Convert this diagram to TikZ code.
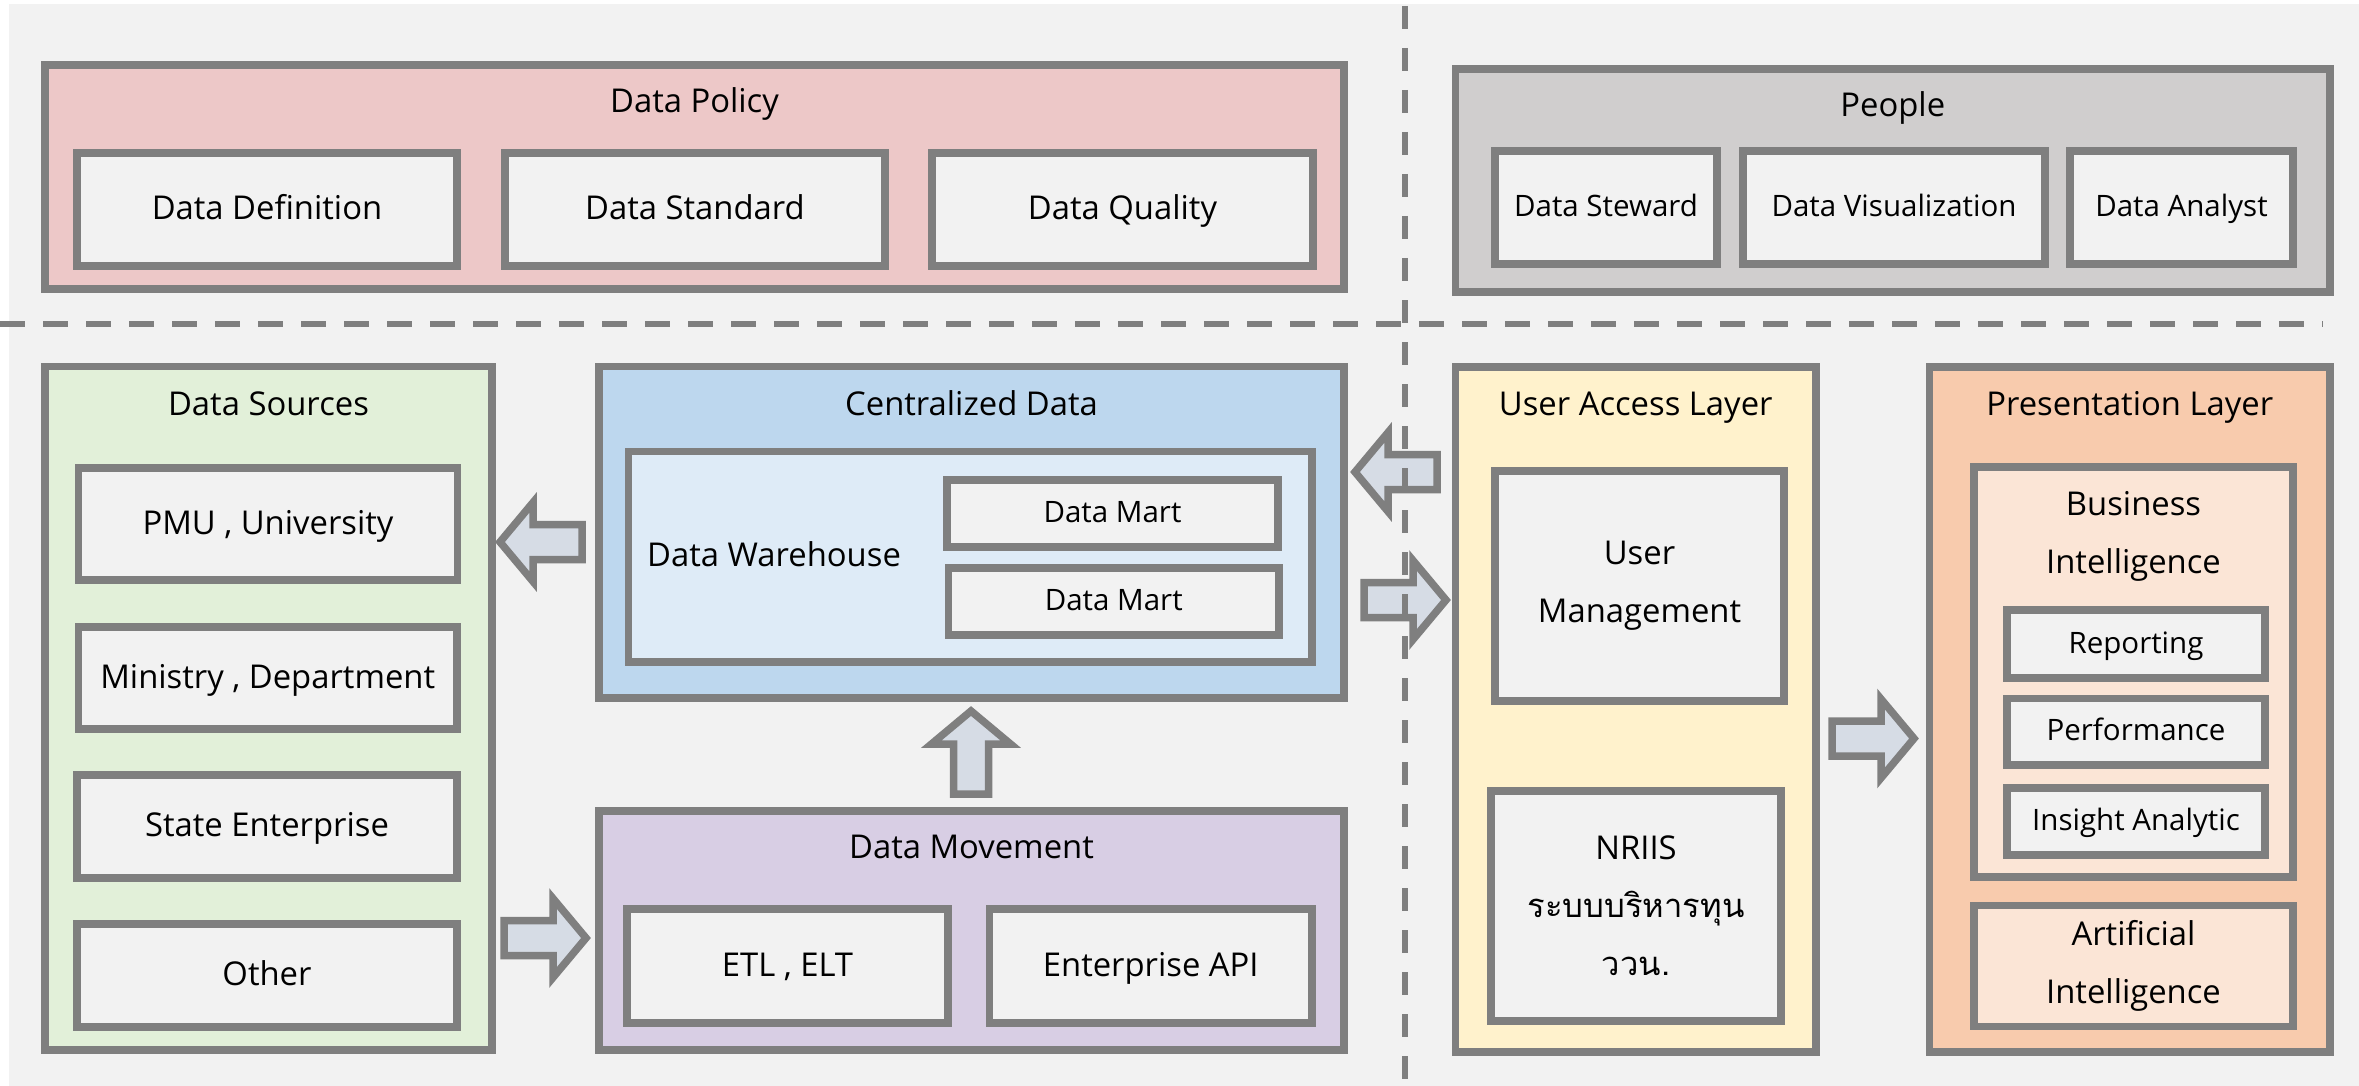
\documentclass[tikz,border=0pt]{standalone}
\usepackage{fontspec}
\setmainfont{Open Sans}
\newfontfamily\thaifont[Script=Thai]{Loma}
\definecolor{bord}{HTML}{7F7F7F}
\definecolor{bg}{HTML}{F2F2F2}
\definecolor{cpink}{HTML}{EDC8C8}
\definecolor{cgray}{HTML}{D0CECE}
\definecolor{cgreen}{HTML}{E2F0D9}
\definecolor{cblue}{HTML}{BDD7EE}
\definecolor{cbluel}{HTML}{DEEBF7}
\definecolor{cpurple}{HTML}{D8CEE4}
\definecolor{cyellow}{HTML}{FFF2CC}
\definecolor{corange}{HTML}{F8CBAD}
\definecolor{corangel}{HTML}{FBE5D6}
\definecolor{carrow}{HTML}{D6DCE5}
\newcommand\FontBig{\fontsize{32.8}{58}\selectfont}
\newcommand\FontSmall{\fontsize{29.5}{40}\selectfont}
\newcommand\ArrowLeft[1]{\draw[barrow] (#1) -- ++(33,-39.5) -- ++(0,22) -- ++(49,0) -- ++(0,35) -- ++(-49,0) -- ++(0,22) -- cycle;}
\newcommand\ArrowRight[1]{\draw[barrow] (#1) -- ++(-33,-39.5) -- ++(0,22) -- ++(-49,0) -- ++(0,35) -- ++(49,0) -- ++(0,22) -- cycle;}
\newcommand\ArrowUp[1]{\draw[barrow] (#1) -- ++(39.5,33) -- ++(-22,0) -- ++(0,50) -- ++(-35,0) -- ++(0,-50) -- ++(-22,0) -- cycle;}
\begin{document}
\begin{tikzpicture}[x=1pt,y=-1pt,
  box/.style={draw=bord, line width=7.5pt, inner sep=0pt, outer sep=0pt, fill=bg},
  sz/.style 2 args={minimum width=#1pt, minimum height=#2pt},
  big/.style={font=\FontBig, text height=23.4pt, text depth=3pt},
  small/.style={font=\FontSmall, text height=21.1pt, text depth=3pt},
  multi/.style={font=\FontBig, align=center},
  title/.style={font=\FontBig, text height=23.4pt, text depth=0pt, inner sep=0pt},
  barrow/.style={draw=bord, fill=carrow, line width=7.5pt, line join=miter},
  hdiv/.style={draw=bord, line width=6pt, dash pattern=on 25pt off 18pt},
  vdiv/.style={draw=bord, line width=6pt, dash pattern=on 23pt off 19pt}
]
\useasboundingbox (0,0) rectangle (2359,1086);
\fill[white] (0,0) rectangle (2359,1086);
\fill[bg] (9,4) rectangle (2359,1086);

% ---------- Data Policy ----------
\node[box, fill=cpink, sz={1299}{224}] (policy) at (694.5,177) {};
\node[title] (policyT) at (694.5,100.5) {Data Policy};
\node[box, big, sz={380}{113}] (defn) at (267,209.5) {Data Definition};
\node[box, big, sz={380}{113}] (stdd) at (695,209.5) {Data Standard};
\node[box, big, sz={381}{113}] (qual) at (1122.5,209.5) {Data Quality};

% ---------- People ----------
\node[box, fill=cgray, sz={874.5}{223}] (people) at (1892.75,180.5) {};
\node[title] (peopleT) at (1892.75,105) {People};
\node[box, small, sz={222}{113}] (steward) at (1606,207.5) {Data Steward};
\node[box, small, sz={302}{113}] (visual) at (1894,207.5) {Data Visualization};
\node[box, small, sz={223}{113}] (analyst) at (2181.5,207.5) {Data Analyst};

% ---------- Data Sources ----------
\node[box, fill=cgreen, sz={447}{683.3}] (sources) at (268.5,708.35) {};
\node[title] (sourcesT) at (268.5,403.5) {Data Sources};
\node[box, big, sz={379}{112}] (pmu) at (268,524) {PMU , University};
\node[box, big, sz={378.5}{102}] (ministry) at (267.75,678) {Ministry , Department};
\node[box, big, sz={380}{103}] (state) at (267,826.5) {State Enterprise};
\node[box, big, sz={380}{103}] (other) at (267,975.5) {Other};

% ---------- Centralized Data ----------
\node[box, fill=cblue, sz={745}{331.3}] (central) at (971.5,532.35) {};
\node[title] (centralT) at (971.5,403.5) {Centralized Data};
\node[box, fill=cbluel, sz={683.5}{210.3}] (dw) at (970.25,556.85) {};
\node[title, anchor=west] (dwT) at (647,555) {Data Warehouse};
\node[box, small, sz={331}{67}] (dm1) at (1112.5,513.5) {Data Mart};
\node[box, small, sz={330.5}{67}] (dm2) at (1113.75,601.5) {Data Mart};

% ---------- Data Movement ----------
\node[box, fill=cpurple, sz={745}{239}] (movement) at (971.5,930.5) {};
\node[title] (movementT) at (971.5,847) {Data Movement};
\node[box, big, sz={321}{114}] (etl) at (787.5,966) {ETL , ELT};
\node[box, big, sz={322.5}{114}] (api) at (1150.75,966) {Enterprise API};

% ---------- User Access Layer ----------
\node[box, fill=cyellow, sz={360.5}{685}] (ual) at (1635.75,709.5) {};
\node[title] (ualT) at (1635.75,403.5) {User Access Layer};
\node[box, multi, sz={289}{230}] (um) at (1639.5,586) {User\\Management};
\node[box, multi, sz={290}{230}] (nriis) at (1636,906) {NRIIS\\{\thaifont ระบบบริหารทุน}\\{\thaifont ววน.}};

% ---------- Presentation Layer ----------
\node[box, fill=corange, sz={400.5}{685}] (pres) at (2129.75,709.5) {};
\node[title] (presT) at (2129.75,403.5) {Presentation Layer};
\node[box, fill=corangel, sz={319}{410}] (bi) at (2133.5,672) {};
\node[multi, inner sep=0pt] (biT) at (2133.5,536) {Business\\Intelligence};
\node[box, small, sz={258}{68}] (rep) at (2136,644) {Reporting};
\node[box, small, sz={258}{66.5}] (perf) at (2136,731.75) {Performance};
\node[box, small, sz={258}{67}] (ins) at (2136,821.5) {Insight Analytic};
\node[box, multi, fill=corangel, sz={319}{121}] (ai) at (2133.5,966) {Artificial\\Intelligence};

% ---------- Block arrows ----------
\coordinate (tipA) at (500,542);
\coordinate (tipB) at (586,938);
\coordinate (tipC) at (971,711);
\coordinate (tipE) at (1355,472);
\coordinate (tipF) at (1446,600);
\coordinate (tipD) at (1914,738.5);
\ArrowLeft{tipA}
\ArrowRight{tipB}
\ArrowUp{tipC}
\ArrowLeft{tipE}
\ArrowRight{tipF}
\ArrowRight{tipD}

% ---------- Dividers ----------
\coordinate (hdA) at (0,323.7);
\coordinate (hdB) at (2323,323.7);
\coordinate (vdA) at (1405,6);
\coordinate (vdB) at (1405,1086);
\draw[hdiv] (hdA) -- (hdB);
\draw[vdiv] (vdA) -- (vdB);
\end{tikzpicture}
\end{document}
